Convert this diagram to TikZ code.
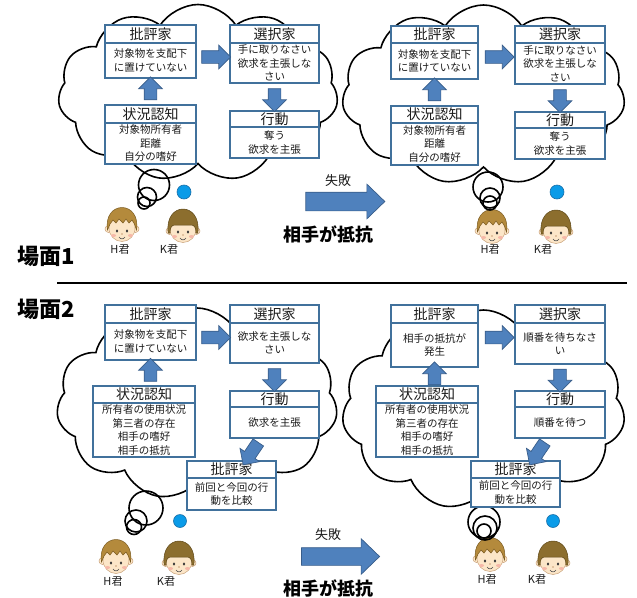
\documentclass[tikz,border=0pt]{standalone}
\usepackage{fontspec}
\setmainfont{Noto Sans CJK JP}
\usetikzlibrary{shapes.symbols,shapes.arrows,calc}

\definecolor{boxline}{HTML}{41719C}
\definecolor{arrowfill}{HTML}{4F81BD}
\definecolor{arrowline}{HTML}{385D8A}
\definecolor{dotblue}{HTML}{0A9BE8}
\definecolor{dotline}{HTML}{1A6FA8}
\definecolor{skin}{HTML}{FCE6C8}
\definecolor{skinline}{HTML}{C8A078}
\definecolor{hairH}{HTML}{B48A3C}
\definecolor{hairHd}{HTML}{7A5A20}
\definecolor{hairK}{HTML}{8C6E2E}
\definecolor{hairKd}{HTML}{5E4818}
\definecolor{cheek}{HTML}{F6B8A8}
\definecolor{inktext}{HTML}{1A1A1A}

\tikzset{
  hdr/.style={draw=boxline, line width=2pt, fill=white, inner sep=0pt, outer sep=0pt,
    text=inktext, font=\fontsize{14}{14}\selectfont},
  bdy/.style={draw=boxline, line width=2pt, fill=white, inner sep=0pt, outer sep=0pt,
    align=center, text=inktext, font=\fontsize{10.5}{13.5}\selectfont},
  barrow/.style={single arrow, draw=arrowline, fill=arrowfill, line width=0.7pt,
    inner sep=0pt, outer sep=0pt, inner ysep=6pt, single arrow head extend=5.5pt,
    single arrow tip angle=90, minimum height=#1},
  bigarrow/.style={single arrow, draw=arrowline, fill=arrowfill, line width=0.7pt,
    inner sep=0pt, outer sep=0pt, inner ysep=9pt, single arrow head extend=8pt,
    single arrow tip angle=88, minimum height=#1},
  thought/.style={cloud, cloud puffs=11, cloud puff arc=115, cloud ignores aspect,
    draw=black, line width=1.6pt, fill=white, inner sep=0pt},
  bubble/.style={draw=black, line width=1.6pt},
  bluedot/.style={fill=dotblue, draw=dotline, line width=0.6pt},
  kidname/.style={text=inktext, font=\fontsize{11}{11}\selectfont},
  scenelabel/.style={text=black, font=\fontsize{22}{22}\selectfont\bfseries},
  faillabel/.style={text=inktext, font=\fontsize{13}{13}\selectfont},
  resistlabel/.style={text=black, font=\fontsize{18}{18}\selectfont\bfseries},
  % boy with tousled light-brown hair
  hboy/.pic={
    \fill[skin, draw=skinline, line width=0.5pt] (-13.5,5) circle (3.5) (13.5,5) circle (3.5);
    \fill[skin, draw=skinline, line width=0.5pt] (0,4) ellipse (13 and 13.5);
    \fill[hairH, draw=hairHd, line width=0.5pt] (-14.5,6) .. controls (-19,-24) and (19,-24) .. (14.5,6)
      -- (12.5,0) -- (10,-4) -- (7,-1) -- (4,-5) -- (1,-1) -- (-3,-5) -- (-6,-1) -- (-9,-4) -- (-12,0) -- cycle;
    \fill[black!80] (-5,7) ellipse (1.2 and 1.6) (5,7) ellipse (1.2 and 1.6);
    \fill[cheek] (-8.5,11.5) ellipse (2.5 and 1.5) (8.5,11.5) ellipse (2.5 and 1.5);
    \fill[skinline] (0,10) circle (0.8);
    \draw[black!70, line width=0.6pt] (-3,13) .. controls (-1.5,15.5) and (1.5,15.5) .. (3,13);
  },
  % boy with a dark bowl cut
  kboy/.pic={
    \fill[skin, draw=skinline, line width=0.5pt] (-13.5,6) circle (3.5) (13.5,6) circle (3.5);
    \fill[skin, draw=skinline, line width=0.5pt] (0,4) ellipse (13 and 13.5);
    \fill[hairK, draw=hairKd, line width=0.5pt] (-14.8,8) .. controls (-19,-24) and (19,-24) .. (14.8,8)
      -- (13,8) .. controls (13,2) and (11,0) .. (8,0) -- (-8,0) .. controls (-11,0) and (-13,2) .. (-13,8) -- cycle;
    \fill[black!80] (-5,7) ellipse (1.2 and 1.6) (5,7) ellipse (1.2 and 1.6);
    \fill[cheek] (-8.5,11.5) ellipse (2.5 and 1.5) (8.5,11.5) ellipse (2.5 and 1.5);
    \fill[skinline] (0,10) circle (0.8);
    \draw[black!70, line width=0.6pt] (-3,13) .. controls (-1.5,15.5) and (1.5,15.5) .. (3,13);
  },
}

% titled box: name, left, right, top, title bottom, bottom, title, body
\newcommand\jbox[8]{%
  \node[hdr, anchor=north west, minimum width={#3-#2}, minimum height={#5-#4}] (#1h) at (#2,#4) {#7};
  \node[bdy, anchor=north west, minimum width={#3-#2}, minimum height={#6-#5}] (#1) at (#2,#5) {#8};
}

\begin{document}
\begin{tikzpicture}[x=1pt, y=-1pt]
\useasboundingbox (0,0) rectangle (637,597);

% ---------- thought clouds ----------
\node[thought, minimum width=280, minimum height=177] (cloudA) at (198,93) {};
\node[thought, minimum width=283, minimum height=180] (cloudB) at (483.5,95) {};
\node[thought, minimum width=281, minimum height=192] (cloudC) at (197,404) {};
\node[thought, minimum width=283, minimum height=200] (cloudD) at (483.5,410) {};

% ---------- children ----------
\pic (hA) at (122,224) {hboy};
\pic (kA) at (183,225) {kboy};
\pic (hB) at (492,226) {hboy};
\pic (kB) at (556,226) {kboy};
\pic (hC) at (116,556) {hboy};
\pic (kC) at (179,557) {kboy};
\pic (hD) at (490,554) {hboy};
\pic (kD) at (553,557) {kboy};

\node[kidname] (hnA) at (120,250) {H君};
\node[kidname] (knA) at (169,250) {K君};
\node[kidname] (hnB) at (490,250) {H君};
\node[kidname] (knB) at (543,250) {K君};
\node[kidname] (hnC) at (113,582) {H君};
\node[kidname] (knC) at (166,582) {K君};
\node[kidname] (hnD) at (487,580) {H君};
\node[kidname] (knD) at (537,580) {K君};

% ---------- thought bubbles ----------
\draw[bubble] (154,185) circle (15.5);
\draw[bubble] (147,197) circle (9.5);
\draw[bubble] (144,203) circle (6);
\draw[bubble] (488,187) circle (15);
\draw[bubble] (490,198) circle (10);
\draw[bubble] (490,203) circle (7);
\draw[bubble] (146,508) circle (17);
\draw[bubble] (136,521) circle (11);
\draw[bubble] (134,527) circle (7.5);
\draw[bubble] (484,522) circle (16);
\draw[bubble] (485,528) circle (12);
\draw[bubble] (484,531) circle (7);

\draw[bluedot] (184,192) circle (7);
\draw[bluedot] (557,192) circle (7);
\draw[bluedot] (180,521) circle (6.5);
\draw[bluedot] (553,521) circle (6.5);

% ---------- scene 1, first attempt ----------
\jbox{crA}{105}{196}{25}{43}{78}{批評家}{対象物を支配下\\に置けていない}
\jbox{selA}{230}{319}{25}{43}{83}{選択家}{手に取りなさい\\欲求を主張しな\\さい}
\jbox{actA}{230}{319}{111}{127}{158}{行動}{奪う\\欲求を主張}
\jbox{sitA}{105}{196}{105}{123}{164}{状況認知}{対象物所有者\\距離\\自分の嗜好}

\node[barrow=29] (arA1) at ($(crAh.south east)!0.5!(selAh.south west)+(0,14)$) {};
\node[barrow=23, rotate=-90] (arA2) at ($(selA.south)!0.5!(actAh.north)$) {};
\node[barrow=23, rotate=90] (arA3) at ($(crA.south)!0.5!(crA.south |- sitAh.north)$) {};

% ---------- scene 1, second attempt ----------
\jbox{crB}{391}{478}{26}{43}{79}{批評家}{対象物を支配下\\に置けていない}
\jbox{selB}{515}{605}{26}{43}{84}{選択家}{手に取りなさい\\欲求を主張しな\\さい}
\jbox{actB}{515}{605}{112}{128}{159}{行動}{奪う\\欲求を主張}
\jbox{sitB}{391}{478}{106}{123}{165}{状況認知}{対象物所有者\\距離\\自分の嗜好}

\node[barrow=29] (arB1) at ($(crBh.south east)!0.5!(selBh.south west)+(0,14)$) {};
\node[barrow=23, rotate=-90] (arB2) at ($(selB.south)!0.5!(actBh.north)$) {};
\node[barrow=23, rotate=90] (arB3) at ($(crB.south)!0.5!(crB.south |- sitBh.north)$) {};

% ---------- scene 2, first attempt ----------
\jbox{crC}{105}{196}{305}{323}{360}{批評家}{対象物を支配下\\に置けていない}
\jbox{selC}{230}{319}{305}{323}{363}{選択家}{欲求を主張しな\\さい}
\jbox{actC}{230}{319}{391}{407}{438}{行動}{欲求を主張}
\jbox{sitC}{93}{195}{386}{403}{457}{状況認知}{所有者の使用状況\\第三者の存在\\相手の嗜好\\相手の抵抗}
\jbox{revC}{187}{276}{461}{478}{510}{批評家}{前回と今回の行\\動を比較}

\node[barrow=29] (arC1) at ($(crCh.south east)!0.5!(selCh.south west)+(0,14.5)$) {};
\node[barrow=23, rotate=-90] (arC2) at ($(selC.south)!0.5!(actCh.north)$) {};
\node[barrow=23, rotate=90] (arC3) at ($(crC.south)!0.5!(crC.south |- sitCh.north)$) {};
\node[barrow=27, rotate=-124] (arC4) at ($(actC.south)+(-22,13)$) {};

% ---------- scene 2, second attempt ----------
\jbox{crD}{391}{478}{305}{323}{367}{批評家}{相手の抵抗が\\発生}
\jbox{selD}{515}{605}{305}{323}{364}{選択家}{順番を待ちなさ\\い}
\jbox{actD}{515}{605}{391}{407}{438}{行動}{順番を待つ}
\jbox{sitD}{376}{478}{386}{403}{457}{状況認知}{所有者の使用状況\\第三者の存在\\相手の嗜好\\相手の抵抗}
\jbox{revD}{471}{560}{461}{478}{507}{批評家}{前回と今回の行\\動を比較}

\node[barrow=29] (arD1) at ($(crDh.south east)!0.5!(selDh.south west)+(0,14.5)$) {};
\node[barrow=23, rotate=-90] (arD2) at ($(selD.south)!0.5!(actDh.north)$) {};
\node[barrow=23, rotate=90] (arD3) at ($(crD.south)!0.5!(crD.south |- sitDh.north)$) {};
\node[barrow=27, rotate=-124] (arD4) at ($(actD.south)+(-21,13)$) {};

% ---------- transitions between attempts ----------
\node[bigarrow=79] (failA) at (340.5,201.5) {};
\node[faillabel] (failtA) at (338,181) {失敗};
\node[resistlabel] (resA) at (328,234) {相手が抵抗};

\node[bigarrow=78, inner ysep=8.5pt, single arrow head extend=9pt] (failC) at (336,556.5) {};
\node[faillabel] (failtC) at (328,535) {失敗};
\node[resistlabel] (resC) at (328,588) {相手が抵抗};

% ---------- scene labels and divider ----------
\node[scenelabel] (scene1) at (46,256) {場面1};
\node[scenelabel] (scene2) at (46,309) {場面2};
\coordinate (divL) at (57,283);
\coordinate (divR) at (627,283);
\draw[line width=2pt] (divL) -- (divR);
\end{tikzpicture}
\end{document}
